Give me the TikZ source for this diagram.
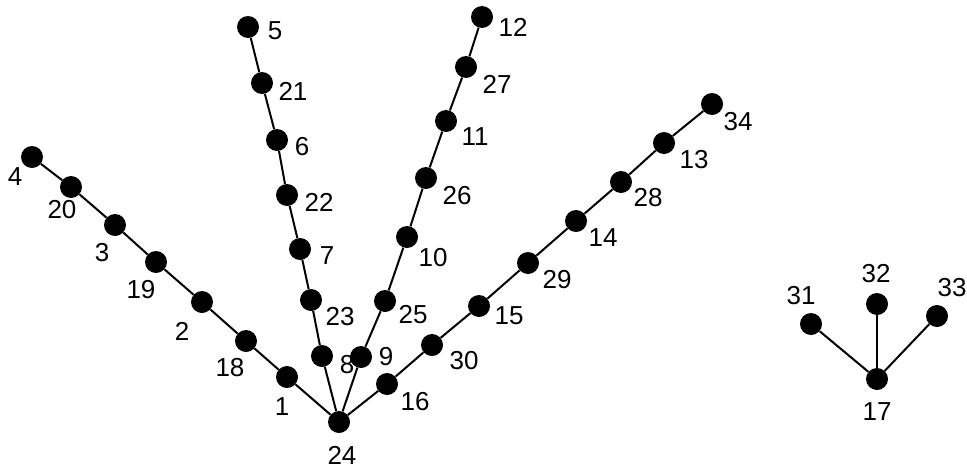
\documentclass[tikz,border=0pt]{standalone}
\usepackage{fontspec}
\setmainfont{Liberation Sans}
\begin{document}
\begin{tikzpicture}[x=0.75pt,y=-0.75pt,
  vtx/.style={circle,fill=black,draw=none,inner sep=0pt,minimum size=16.5pt},
  lab/.style={inner sep=0pt,font=\fontsize{19.5}{19.5}\selectfont},
  edge/.style={line width=1.5pt,draw=black}]
\useasboundingbox (0,0) rectangle (967,468);
% vertices
\foreach \n/\x/\y in {24/339/422, 1/287/377, 18/246/341, 2/202/302, 19/156/262, 3/115/225, 20/71/187, 4/32/157,
  8/322/356, 23/311/300, 7/300/249, 22/287/195, 6/277/140, 21/262/83, 5/248/27,
  9/361/357, 25/385/301, 10/407/237, 26/426/178, 11/446/121, 27/466/67, 12/482/17,
  16/387/384, 30/432/345, 15/479/306, 29/528/263, 14/576/221, 28/621/182, 13/664/143, 34/712/104,
  17/877/379, 31/811/324, 32/877/304, 33/937/316}
  \node[vtx] (v\n) at (\x,\y) {};
% labels
\foreach \n/\x/\y in {24/342/455, 1/282/407, 18/230/368, 2/182/331, 19/141/290, 3/102/253, 20/62/210, 4/15/177,
  8/347/365, 23/340/317, 7/327/256, 22/319/202, 6/302/147, 21/293/91, 5/275/31,
  9/386/357, 25/413/315, 10/433/258, 26/457/196, 11/475/137, 27/497/84, 12/513/27,
  16/415/402, 30/464/361, 15/509/316, 29/557/280, 14/603/238, 28/648/198, 13/694/160, 34/738/122,
  17/877/412, 31/801/296, 32/876/274, 33/952/288}
  \node[lab] (l\n) at (\x,\y) {\n};
% edges
\foreach \a/\b in {24/1, 1/18, 18/2, 2/19, 19/3, 3/20, 20/4,
  24/8, 8/23, 23/7, 7/22, 22/6, 6/21, 21/5,
  24/9, 9/25, 25/10, 10/26, 26/11, 11/27, 27/12,
  24/16, 16/30, 30/15, 15/29, 29/14, 14/28, 28/13, 13/34,
  17/31, 17/32, 17/33}
  \draw[edge] (v\a) -- (v\b);
\end{tikzpicture}
\end{document}
